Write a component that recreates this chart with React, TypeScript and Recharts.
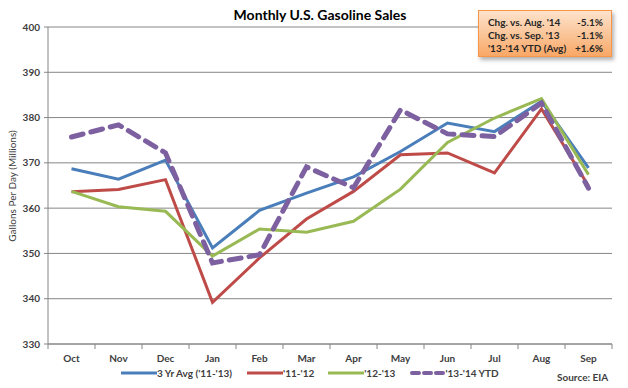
import React from "react";
import { LineChart, Line, XAxis, YAxis, CartesianGrid } from "recharts";

const months = ["Oct", "Nov", "Dec", "Jan", "Feb", "Mar", "Apr", "May", "Jun", "Jul", "Aug", "Sep"];
const avg3yr = [368.7, 366.4, 370.6, 351.2, 359.5, 363.3, 366.9, 372.5, 378.8, 376.9, 383.6, 368.9];
const y1112 = [363.6, 364.1, 366.3, 339.2, 349.0, 357.6, 363.7, 371.8, 372.2, 367.8, 381.9, 364.9];
const y1213 = [363.7, 360.3, 359.3, 349.4, 355.4, 354.7, 357.1, 364.2, 374.5, 379.9, 384.2, 367.4];
const ytd1314 = [375.7, 378.4, 372.2, 347.9, 349.7, 369.1, 364.5, 381.7, 376.4, 375.8, 383.2, 364.4];
const yTicks = [330, 340, 350, 360, 370, 380, 390, 400];
const seriesNames = ["3 Yr Avg ('11-'13)", "'11-'12", "'12-'13", "'13-'14 YTD"];
const boxLabels = ["Chg. vs. Aug. '14", "Chg. vs. Sep. '13", "'13-'14 YTD (Avg)"];
const boxValues = ["-5.1%", "-1.1%", "+1.6%"];

const data = months.map((m, i) => ({
  month: m,
  avg: avg3yr[i],
  a: y1112[i],
  b: y1213[i],
  ytd: ytd1314[i],
}));

const FONT = "Lato, 'Open Sans', sans-serif";
const GRID = "#868686";
const TXT = "#404040";
const COLORS = ["#4A7EBB", "#BE4B48", "#98B954", "#7D60A0"];

const MonthTick = (props: any) => {
  const { x, y, payload, width, visibleTicksCount, index } = props;
  const w = width / visibleTicksCount;
  return (
    <g>
      <line x1={x - w / 2} y1={y} x2={x - w / 2} y2={y + 5} stroke={GRID} />
      {index === visibleTicksCount - 1 && <line x1={x + w / 2} y1={y} x2={x + w / 2} y2={y + 5} stroke={GRID} />}
      <text x={x} y={y + 17.5} textAnchor="middle" fontFamily={FONT} fontSize={10} fontWeight={700} fill={TXT}>
        {payload.value}
      </text>
    </g>
  );
};

const LegendContent = () => (
  <div style={{ display: "flex", alignItems: "center", fontFamily: FONT, fontSize: 10, fontWeight: 700, color: TXT }}>
    {seriesNames.map((n, i) => (
      <div key={n} style={{ display: "flex", alignItems: "center", marginRight: i === 0 ? 15 : 14 }}>
        <svg width={36} height={8} style={{ display: "block" }}>
          {i === 3 ? (
            <line x1={3} y1={4} x2={34} y2={4} stroke={COLORS[i]} strokeWidth={4} strokeDasharray="7 5" strokeLinecap="round" />
          ) : (
            <line x1={0} y1={4} x2={36} y2={4} stroke={COLORS[i]} strokeWidth={3} />
          )}
        </svg>
        <span style={{ whiteSpace: "nowrap" }}>{n}</span>
      </div>
    ))}
  </div>
);

export default function App() {
  return (
    <div style={{ position: "absolute", left: 0, top: 0, width: 628, height: 388, background: "#fff" }}>
      <div style={{ position: "absolute", left: 0, top: 6, width: 640, textAlign: "center", fontFamily: FONT, fontSize: 14, fontWeight: 700, color: "#000" }}>
        Monthly U.S. Gasoline Sales
      </div>
      <LineChart width={628} height={388} data={data} margin={{ top: 27, right: 16, bottom: 0, left: 0 }}>
        <CartesianGrid vertical={false} stroke={GRID} strokeWidth={1} />
        <XAxis
          dataKey="month"
          scale="band"
          height={44}
          axisLine={{ stroke: GRID }}
          tickLine={false}
          tickSize={0}
          tickMargin={0}
          interval={0}
          tick={<MonthTick />}
        />
        <YAxis
          domain={[330, 400]}
          ticks={yTicks}
          width={48}
          interval={0}
          axisLine={{ stroke: GRID }}
          tickLine={{ stroke: GRID }}
          tickSize={4}
          tickMargin={4}
          tick={{ fontFamily: FONT, fontSize: 10, fontWeight: 700, fill: TXT }}
          label={{
            content: () => (
              <text x={16} y={186} transform="rotate(-90 16 186)" textAnchor="middle" fontFamily={FONT} fontSize={10} fill={TXT}>
                Gallons Per Day (Millions)
              </text>
            ),
          }}
        />
        <Line dataKey="avg" name={seriesNames[0]} stroke={COLORS[0]} strokeWidth={3} dot={false} isAnimationActive={false} />
        <Line dataKey="a" name={seriesNames[1]} stroke={COLORS[1]} strokeWidth={3} dot={false} isAnimationActive={false} />
        <Line dataKey="b" name={seriesNames[2]} stroke={COLORS[2]} strokeWidth={3} dot={false} isAnimationActive={false} />
        <Line
          dataKey="ytd"
          name={seriesNames[3]}
          stroke={COLORS[3]}
          strokeWidth={5}
          strokeDasharray="12 8"
          strokeLinecap="round"
          dot={false}
          isAnimationActive={false}
        />
      </LineChart>
      <div style={{ position: "absolute", left: 121, top: 367 }}>
        <LegendContent />
      </div>
      <div
        style={{
          position: "absolute",
          left: 557,
          top: 371,
          fontFamily: FONT,
          fontSize: 10,
          fontWeight: 700,
          color: TXT,
        }}
      >
        Source: EIA
      </div>
      <div
        style={{
          position: "absolute",
          left: 478,
          top: 10,
          width: 134,
          height: 47,
          boxSizing: "border-box",
          border: "1px solid #F79646",
          background: "linear-gradient(#FDE3CC, #FAC090 60%, #F9A766)",
          boxShadow: "2px 3px 4px rgba(0,0,0,0.3)",
          fontFamily: FONT,
          fontSize: 10,
          fontWeight: 700,
          color: "#262626",
          padding: "5px 8px 0 9px",
          lineHeight: "12.8px",
        }}
      >
        {boxLabels.map((l, i) => (
          <div key={l} style={{ display: "flex", justifyContent: "space-between" }}>
            <span>{l}</span>
            <span>{boxValues[i]}</span>
          </div>
        ))}
      </div>
    </div>
  );
}
